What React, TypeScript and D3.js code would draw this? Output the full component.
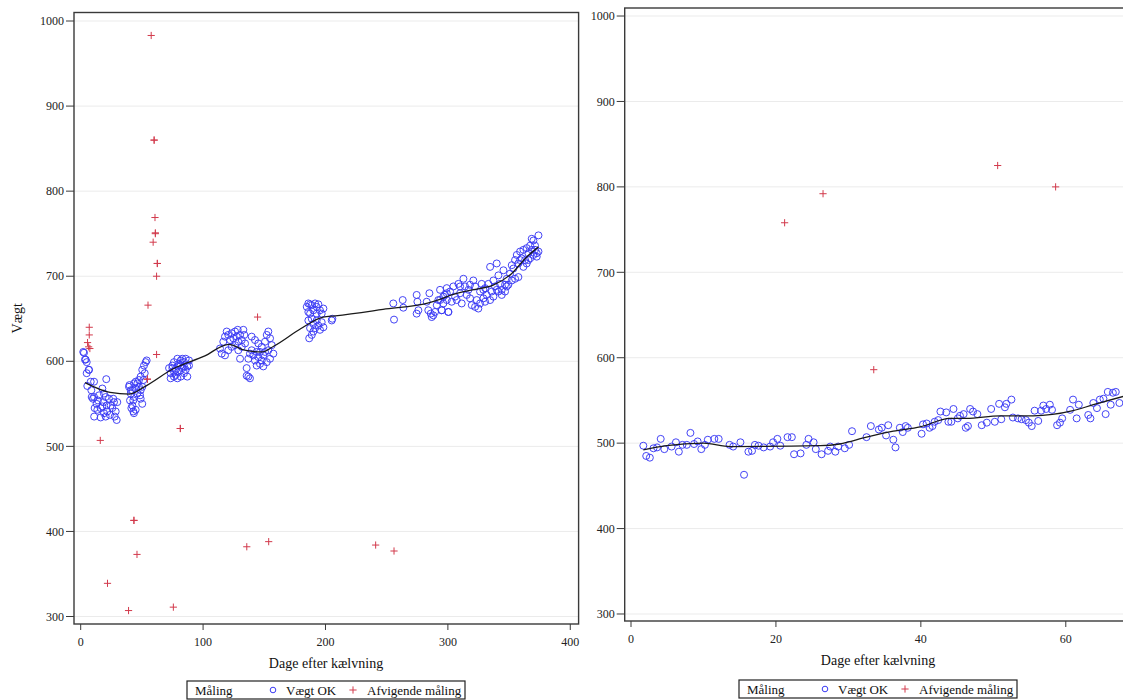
import React, { useEffect, useRef } from 'react';
import * as d3 from 'd3';

type Pt = [number, number];

// Left panel: day after calving, weight
const leftOk: Pt[] = [
  // days 2-30
  [2.1, 611], [2.7, 610], [3.5, 602], [4.1, 602], [4.9, 599], [6.8, 590], [6.6, 590], [4.9, 586], [5.4, 571], [8.2, 576],
  [10.9, 576], [8.7, 566], [10.9, 558], [10, 556], [9, 558], [11.4, 545], [11, 535], [13.6, 543], [16.3, 534], [13, 550],
  [15, 560], [17.7, 568], [19, 562], [20.9, 579], [20.4, 558], [21.2, 548], [21.7, 541], [23.9, 537], [24.5, 548], [25.8, 545],
  [27.2, 552], [28.6, 541], [29.4, 531], [27.8, 535], [26.6, 556], [23.1, 556], [29.9, 552], [18.5, 552], [16.3, 545], [14.1, 554],
  [19, 539], [20.4, 535], [17.7, 547],
  // days 38-55
  [39.5, 570], [40.9, 562], [40.3, 554], [42.2, 548], [43, 541], [41.4, 545], [43.6, 558], [44.9, 568], [46.3, 574], [47.6, 570],
  [49, 566], [48.5, 560], [50.3, 550], [49, 582], [50.3, 590], [51.7, 595], [53.1, 599], [53.9, 601], [52.3, 586], [44.9, 576],
  [46.3, 562], [43.6, 574], [47.6, 578], [51.2, 578], [42.2, 566], [50.3, 570], [49, 556], [44.9, 543], [40.9, 566], [43, 554],
  [39.8, 572], [43.5, 539],
  // days 72-89
  [72.2, 592], [73.5, 586], [74.9, 595], [76.2, 599], [77.6, 590], [79, 594], [80.3, 597], [81.7, 601], [83, 603], [84.4, 599],
  [85.8, 603], [87.1, 594], [88.5, 595], [87.1, 582], [84.4, 586], [81.7, 582], [79, 580], [76.2, 582], [73.5, 580], [76.2, 588],
  [80.3, 588], [83, 592], [85.8, 590], [88.5, 601], [79, 603], [74.9, 592], [77.6, 584], [81.7, 595], [84.4, 594],
  // days 113-158
  [113.8, 615], [115.2, 609], [116.5, 623], [117.9, 629], [119.3, 635], [120.6, 631], [122, 625], [123.4, 633], [124.7, 627], [126.1, 635],
  [127.5, 629], [128.8, 623], [130.2, 631], [131.6, 625], [132.9, 637], [133.7, 631], [126.1, 619], [123.4, 617], [120.6, 613], [117.9, 607],
  [128.8, 613], [130.2, 603], [128.3, 637], [131.6, 617], [134.3, 621], [135.6, 592], [137, 603], [138.3, 609], [139.7, 613], [141, 607],
  [142.4, 601], [143.8, 595], [145.1, 605], [146.5, 611], [147.9, 617], [149.2, 607], [150.6, 623], [152, 631], [153.3, 635], [154.7, 627],
  [156.1, 619], [157.4, 609], [154.7, 603], [152, 599], [149.2, 594], [146.5, 597], [139.7, 629], [142.4, 625], [145.1, 621], [137, 582],
  [138.3, 580], [135.6, 583], [150.6, 611], [153.3, 613], [147.9, 601], [143.8, 611],
  // days 184-206
  [184.7, 664], [186, 668], [187.4, 667], [188.8, 666], [190.1, 660], [191.5, 668], [192.8, 664], [194.2, 667], [195.5, 660], [196.9, 656],
  [198.3, 662], [187.4, 656], [188.8, 650], [190.1, 644], [191.5, 639], [192.8, 648], [194.2, 642], [195.5, 637], [186, 648], [187.4, 639],
  [188.8, 631], [190.1, 635], [196.9, 646], [198.3, 640], [205.1, 648], [205.6, 650], [186, 658], [192.8, 656], [186.7, 627],
  // days 255-300
  [255.4, 668], [256, 649], [263.1, 672], [263.6, 663], [274.5, 678], [275.1, 670], [274.5, 656], [275.9, 660], [282.7, 670], [284, 660],
  [284.9, 680], [286, 656], [286.8, 652], [288.1, 654], [289.5, 658], [290.9, 666], [292.2, 672], [293.6, 684], [295, 660], [296.3, 676],
  [299.1, 680], [300.4, 658],
  // days 293-375
  [293.6, 672], [295, 660], [300.4, 658], [297.7, 678], [299.1, 686], [301.8, 682], [304.5, 688], [305.9, 676], [308.6, 691], [310, 680],
  [312.7, 697], [314, 688], [315.4, 678], [316.8, 684], [319.5, 666], [320.8, 695], [322.2, 688], [323.6, 672], [324.9, 662], [326.3, 682],
  [327.6, 691], [329, 674], [330.4, 686], [331.7, 678], [333.1, 691], [334.5, 711], [335.8, 682], [337.2, 695], [338.5, 688], [339.9, 715],
  [341.3, 701], [342.6, 691], [344, 684], [345.4, 707], [346.7, 682], [348.1, 697], [349.4, 690], [350.8, 703], [352.2, 713], [353.5, 709],
  [354.9, 719], [356.3, 725], [357.6, 715], [359, 729], [360.3, 721], [361.7, 731], [363.1, 719], [364.4, 733], [365.8, 727], [367.2, 736],
  [368.5, 744], [369.9, 742], [371.2, 731], [372.6, 723], [374, 748], [372.6, 727], [369.9, 725], [367.2, 721], [364.4, 715], [361.7, 711],
  [357.6, 699], [354.9, 697], [352.2, 695], [346.7, 690], [344, 678], [341.3, 682], [337.2, 676], [334.5, 672], [330.4, 670], [326.3, 668],
  [322.2, 664], [318.1, 674], [311.3, 668], [307.2, 672], [303.1, 670], [296.3, 668], [374, 729], [371.2, 736], [299.1, 672], [310, 688],
  [318.1, 690], [329, 684], [339.9, 684], [348.1, 688], [359, 719], [365.8, 719], [368.5, 731],
];

const leftOutliers: Pt[] = [
  [57.6, 983], [60, 860], [60, 860], [60.7, 769], [61, 751], [61, 750], [59.2, 740], [62.6, 715], [62.6, 715], [62, 700],
  [55, 666], [62, 608], [54.5, 579], [54.5, 579], [7, 640], [7, 631], [5.6, 622], [6.5, 617], [7.5, 615], [16, 507],
  [81.4, 521], [81.4, 521], [144.5, 652], [43.5, 413], [43.5, 413], [46, 373], [21.9, 339], [39.1, 307], [75.7, 311], [135.7, 382],
  [153.6, 388], [241, 384], [256, 377],
];

const leftTrend: Pt[] = [
  [3.5, 575], [24, 563.5], [40, 561.5], [52, 570], [76, 591.5], [101, 606], [121, 620], [134, 613], [148, 611], [158, 618],
  [180, 638.5], [198, 652], [208, 653.5], [247, 661], [285, 669], [294, 673], [303, 678], [320, 684], [337, 689.5], [352, 703],
  [364, 722], [374, 734.5],
];

// Right panel
const rightOk: Pt[] = [
  [1.7, 497], [2.1, 485], [2.6, 483], [3.1, 494], [3.6, 495], [4.1, 505], [4.6, 493], [5.6, 496], [6.2, 501], [6.6, 490],
  [7.1, 498], [7.7, 498], [8.2, 512], [8.7, 499], [9.2, 502], [9.7, 493], [10.2, 498], [10.6, 504], [11.5, 505], [12.1, 505],
  [13.6, 498], [14.1, 496], [15.1, 501], [15.6, 463], [16.2, 490], [16.7, 491], [17.1, 498], [17.6, 497], [18.3, 495], [19.2, 496],
  [19.6, 501], [20.2, 505], [20.6, 497], [21.6, 507], [22.2, 507], [22.5, 487], [23.4, 488], [24.2, 498], [24.5, 505], [25.2, 501],
  [25.5, 493], [26.3, 487], [27.2, 491], [27.5, 496], [28.2, 490], [28.6, 496], [29.5, 494], [30.1, 498], [30.5, 514], [32.5, 507],
  [33.1, 520], [34.2, 516], [34.6, 518], [35.2, 509], [35.5, 521], [36.2, 504], [36.5, 495], [37.1, 518], [37.5, 513], [37.9, 520],
  [38.2, 518], [40.1, 511], [40.3, 522], [40.8, 523], [41.2, 518], [41.6, 520], [41.9, 525], [42.4, 527], [42.7, 537], [43.5, 536],
  [43.8, 525], [44.2, 525], [44.5, 540], [45.1, 529], [45.4, 532], [45.9, 534], [46.2, 518], [46.5, 520], [46.8, 540], [47.2, 537],
  [47.8, 534], [48.4, 521], [49.1, 524], [49.7, 540], [50.2, 525], [50.8, 546], [51.1, 528], [51.6, 542], [51.8, 546], [52.5, 551],
  [52.7, 530], [53.4, 529], [53.9, 528], [54.5, 527], [54.9, 524], [55.3, 520], [55.7, 538], [56.2, 526], [56.6, 538], [56.9, 544],
  [57.3, 540], [57.8, 545], [58.1, 539], [58.8, 521], [59.2, 524], [59.5, 529], [60.6, 539], [61, 551], [61.5, 529], [61.8, 545],
  [63.1, 533], [63.4, 529], [63.8, 547], [64.3, 541], [64.7, 551], [65.2, 552], [65.5, 534], [65.8, 560], [66.2, 545], [66.5, 559],
  [66.9, 560], [67.4, 547],
];

const rightOutliers: Pt[] = [[21.2, 758], [26.5, 792], [33.5, 586], [50.6, 825], [58.6, 800]];

const rightTrend: Pt[] = [
  [1.7, 492], [4.9, 497], [10, 500], [13.7, 496], [26.1, 497], [28.8, 499], [32.5, 507], [36.2, 514], [39.9, 519], [44, 529],
  [46.3, 529], [50.9, 532], [55.5, 532], [61, 538], [63.8, 545], [68.5, 556],
];

const yTicks = [300, 400, 500, 600, 700, 800, 900, 1000];
const leftXTicks = [0, 100, 200, 300, 400];
const rightXTicks = [0, 20, 40, 60];

const xTitle = 'Dage efter kælvning';
const yTitle = 'Vægt';
const legendTitle = 'Måling';
const legendOk = 'Vægt OK';
const legendOut = 'Afvigende måling';

const FONT = '"Liberation Serif", "Times New Roman", serif';
const BLUE = '#3a3af4';
const RED = '#d23a4c';

const App = () => {
  const svgRef = useRef<SVGSVGElement>(null);

  useEffect(() => {
    const svg = d3.select(svgRef.current);
    svg.selectAll('*').remove();

    const drawPanel = (p: any) => {
      const g = svg.append('g');
      const x = d3.scaleLinear().domain(p.xDomain).range([p.left, p.right]);
      const y = d3.scaleLinear().domain(p.yDomain).range([p.bottom, p.top]);

      const clipId = `clip-${p.id}`;
      svg.append('clipPath').attr('id', clipId)
        .append('rect')
        .attr('x', p.left).attr('y', p.top)
        .attr('width', p.right - p.left).attr('height', p.bottom - p.top);

      // grid
      g.append('g').selectAll('line').data(yTicks).join('line')
        .attr('x1', p.left).attr('x2', p.right)
        .attr('y1', d => y(d)).attr('y2', d => y(d))
        .attr('stroke', '#ebebeb').attr('stroke-width', 1);

      const plot = g.append('g').attr('clip-path', `url(#${clipId})`);

      // OK weights
      plot.append('g').selectAll('circle').data(p.ok).join('circle')
        .attr('cx', (d: Pt) => x(d[0])).attr('cy', (d: Pt) => y(d[1]))
        .attr('r', 3.5).attr('fill', 'none')
        .attr('stroke', BLUE).attr('stroke-width', 0.95);

      // outliers
      plot.append('g').selectAll('path').data(p.out).join('path')
        .attr('transform', (d: Pt) => `translate(${x(d[0])},${y(d[1])})`)
        .attr('d', 'M-3.6,0H3.6M0,-3.6V3.6')
        .attr('stroke', RED).attr('stroke-width', 1).attr('fill', 'none');

      // trend
      const line = d3.line<Pt>().x(d => x(d[0])).y(d => y(d[1])).curve(d3.curveMonotoneX);
      plot.append('path').datum(p.trend)
        .attr('d', line)
        .attr('fill', 'none').attr('stroke', '#1a1a1a').attr('stroke-width', 1.3);

      // frame
      g.append('rect')
        .attr('x', p.left).attr('y', p.top)
        .attr('width', p.right - p.left).attr('height', p.bottom - p.top)
        .attr('fill', 'none').attr('stroke', '#3a3a3a').attr('stroke-width', 1.4);

      // y axis
      const ya = g.append('g');
      ya.selectAll('line').data(yTicks).join('line')
        .attr('x1', p.left - 8).attr('x2', p.left)
        .attr('y1', d => y(d)).attr('y2', d => y(d))
        .attr('stroke', '#3a3a3a').attr('stroke-width', 1);
      ya.selectAll('text').data(yTicks).join('text')
        .attr('x', p.left - 10).attr('y', d => y(d)).attr('dy', '0.35em')
        .attr('text-anchor', 'end')
        .style('font-family', FONT).style('font-size', '12px').attr('fill', '#222')
        .text(d => d);

      // x axis
      const xa = g.append('g');
      xa.selectAll('line').data(p.xTicks).join('line')
        .attr('x1', (d: number) => x(d)).attr('x2', (d: number) => x(d))
        .attr('y1', p.bottom).attr('y2', p.bottom + 6)
        .attr('stroke', '#3a3a3a').attr('stroke-width', 1);
      xa.selectAll('text').data(p.xTicks).join('text')
        .attr('x', (d: number) => x(d)).attr('y', p.bottom + 22)
        .attr('text-anchor', 'middle')
        .style('font-family', FONT).style('font-size', '12px').attr('fill', '#222')
        .text((d: number) => d);

      g.append('text')
        .attr('x', p.center).attr('y', p.bottom + 44)
        .attr('text-anchor', 'middle')
        .style('font-family', FONT).style('font-size', '14px').attr('fill', '#111')
        .text(xTitle);

      if (p.showYTitle) {
        g.append('text')
          .attr('transform', `translate(${p.left - 52},${(p.top + p.bottom) / 2}) rotate(-90)`)
          .attr('text-anchor', 'middle')
          .style('font-family', FONT).style('font-size', '14px').attr('fill', '#111')
          .text(yTitle);
      }

      // legend
      const lw = 278;
      const lx = p.center - lw / 2;
      const ly = p.legendTop;
      const lg = g.append('g');
      lg.append('rect')
        .attr('x', lx).attr('y', ly).attr('width', lw).attr('height', 18)
        .attr('fill', 'white').attr('stroke', '#222').attr('stroke-width', 1.2);
      const ty = ly + 14;
      const txt = (tx: number, s: string) => lg.append('text')
        .attr('x', tx).attr('y', ty)
        .style('font-family', FONT).style('font-size', '13px').attr('fill', '#111')
        .text(s);
      txt(lx + 8, legendTitle);
      lg.append('circle').attr('cx', lx + 86).attr('cy', ly + 9).attr('r', 2.8)
        .attr('fill', 'none').attr('stroke', BLUE).attr('stroke-width', 1);
      txt(lx + 99, legendOk);
      lg.append('path').attr('transform', `translate(${lx + 166},${ly + 9})`)
        .attr('d', 'M-3.6,0H3.6M0,-3.6V3.6').attr('stroke', RED).attr('stroke-width', 1);
      txt(lx + 180, legendOut);
    };

    drawPanel({
      id: 'left', left: 74, right: 578.6, top: 12.5, bottom: 624,
      xDomain: [-5.47, 406.8], yDomain: [291.2, 1010],
      xTicks: leftXTicks, ok: leftOk, out: leftOutliers, trend: leftTrend,
      center: 326, legendTop: 681, showYTitle: true,
    });

    drawPanel({
      id: 'right', left: 624.7, right: 1131, top: 8, bottom: 621,
      xDomain: [-0.87, 69], yDomain: [291.8, 1009.4],
      xTicks: rightXTicks, ok: rightOk, out: rightOutliers, trend: rightTrend,
      center: 878, legendTop: 680, showYTitle: false,
    });
  }, []);

  return (
    <svg ref={svgRef} width={1123} height={700}
      style={{ position: 'absolute', left: 0, top: 0, background: '#fff' }}></svg>
  );
};

export default App;
